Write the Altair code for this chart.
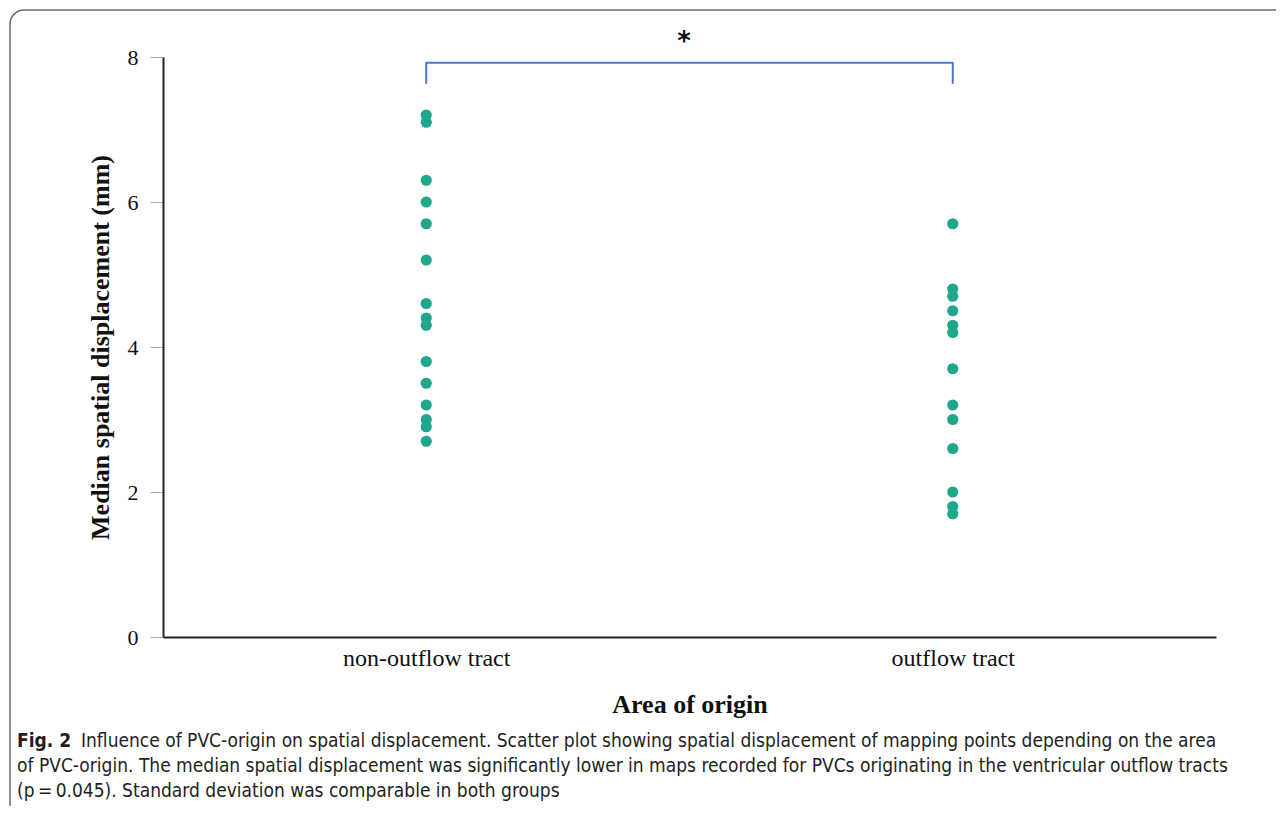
import altair as alt
import pandas as pd

# ---- data ----
non_outflow = [7.2, 7.1, 6.3, 6.0, 5.7, 5.2, 4.6, 4.4, 4.3, 3.8, 3.5, 3.2, 3.0, 2.9, 2.7]
outflow = [5.7, 4.8, 4.7, 4.5, 4.3, 4.2, 3.7, 3.2, 3.0, 2.6, 2.0, 1.8, 1.7]
categories = ["non-outflow tract", "outflow tract"]
y_ticks = [0, 2, 4, 6, 8]
bracket_cat = ["non-outflow tract", "non-outflow tract", "outflow tract", "outflow tract"]
bracket_val = [7.63, 7.92, 7.92, 7.63]
bracket_ord = [0, 1, 2, 3]
sig_label = ["*"]
caption_bold = ["Fig. 2"]
caption_lines = [
    "Influence of PVC-origin on spatial displacement. Scatter plot showing spatial displacement of mapping points depending on the area",
    "of PVC-origin. The median spatial displacement was significantly lower in maps recorded for PVCs originating in the ventricular outflow tracts",
    "(p\u2009=\u20090.045). Standard deviation was comparable in both groups",
]

pts = pd.DataFrame({
    "area": [categories[0]] * len(non_outflow) + [categories[1]] * len(outflow),
    "disp": non_outflow + outflow,
})
br = pd.DataFrame({"area": bracket_cat, "disp": bracket_val, "o": bracket_ord})

SERIF = "Liberation Serif"
CAP_FONT = "DejaVu Sans Condensed, Liberation Sans Narrow, sans-serif"

xs = alt.Scale(type="point", domain=categories, padding=0.5)
ys = alt.Scale(domain=[0, 8])

border = alt.Chart(pd.DataFrame({"a": [0]})).mark_rect(
    fill=None, stroke="#6a6a6a", strokeWidth=1.5, cornerRadius=14
).encode(x=alt.value(-153), x2=alt.value(1160), y=alt.value(-47), y2=alt.value(800))

points = alt.Chart(pts).mark_circle(size=125, opacity=1, color="#1fa68b").encode(
    x=alt.X("area:N", scale=xs, sort=categories,
            axis=alt.Axis(title="Area of origin", ticks=False, labelAngle=0,
                          labelAlign="center", labelBaseline="top",
                          labelFont=SERIF, labelFontSize=24, labelColor="#111",
                          labelPadding=9, titleFont=SERIF, titleFontSize=26,
                          titleFontWeight="bold", titleColor="#111", titlePadding=21,
                          domainColor="#222", domainWidth=2)),
    y=alt.Y("disp:Q", scale=ys,
            axis=alt.Axis(title="Median spatial displacement (mm)", values=y_ticks, grid=False,
                          format="d", tickSize=13, tickColor="#aaa", tickWidth=1,
                          labelFont=SERIF, labelFontSize=22, labelColor="#111",
                          labelPadding=12, titleFont=SERIF, titleFontSize=26,
                          titleFontWeight="bold", titleColor="#111", titlePadding=14,
                          domainColor="#222", domainWidth=2)),
)

bracket = alt.Chart(br).mark_line(color="#4a78c8", strokeWidth=2, strokeJoin="round").encode(
    x=alt.X("area:N", scale=xs, sort=categories),
    y=alt.Y("disp:Q", scale=ys),
    order="o:Q",
)

star = alt.Chart(pd.DataFrame({"t": sig_label})).mark_text(
    font="DejaVu Sans", fontSize=26, fontWeight="bold", color="#111", baseline="middle"
).encode(text="t:N", x=alt.value(521), y=alt.value(-15))

cap_b = alt.Chart(pd.DataFrame({"t": caption_bold})).mark_text(
    font=CAP_FONT, fontSize=19, fontWeight="bold", color="#231f20", align="left", baseline="middle"
).encode(text="t:N", x=alt.value(-146), y=alt.value(684))

cap_df = pd.DataFrame({"t": caption_lines, "i": [0, 1, 2],
                       "px": [-82, -146, -146], "py": [684, 709, 734]})
caps = alt.Chart(cap_df).mark_text(
    font=CAP_FONT, fontSize=19, color="#231f20", align="left", baseline="middle"
).encode(text="t:N", x=alt.X("px:Q", scale=None), y=alt.Y("py:Q", scale=None))

chart = alt.layer(border, bracket, points, star, cap_b, caps).properties(
    width=1053, height=580,
    autosize=alt.AutoSizeParams(type="none"),
    padding={"left": 155, "top": 49, "right": 60, "bottom": 169},
).configure_view(stroke=None)

chart.save("out.html", embed_options={"renderer": "svg", "actions": False})
